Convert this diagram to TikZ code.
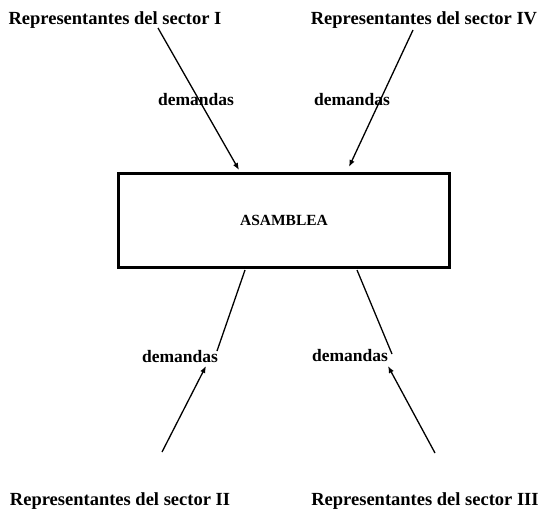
\documentclass[tikz,border=0pt]{standalone}
\usepackage{fontspec}
\setmainfont{Liberation Serif}
\usetikzlibrary{arrows.meta}

\begin{document}
\begin{tikzpicture}[x = 1pt, y = -1pt, line width = 1.3pt,
                        rep/.style = {inner sep = 0pt, font = \bfseries\fontsize{18.5}{20}\selectfont},
                        dem/.style = {inner sep = 0pt, font = \bfseries\fontsize{17.5}{20}\selectfont},
                        asamblea/.style = {draw, line width = 3pt, inner sep = 0pt, minimum width = 331pt,
                                           minimum height = 94pt, font = \bfseries\fontsize{15.5}{18}\selectfont},
                        flecha/.style = {-{Latex[length = 7pt, width = 5.5pt]}}]
      \useasboundingbox (0, 0) rectangle (541, 511);
      \node [rep] (s1) at (115, 20){Representantes del sector I};
      \node [rep] (s4) at (424, 20){Representantes del sector IV};
      \node [rep] (s2) at (120, 501){Representantes del sector II};
      \node [rep] (s3) at (425, 501){Representantes del sector III};
      \node [asamblea] (asm) at (284, 220.5){ASAMBLEA};
      \node [dem] (d1) at (196, 100){demandas};
      \node [dem] (d4) at (352, 100){demandas};
      \node [dem] (d2) at (180, 357){demandas};
      \node [dem] (d3) at (350, 356){demandas};
      \coordinate (a1) at (158, 28);
      \coordinate (b1) at (239, 170);
      \coordinate (a4) at (413, 30);
      \coordinate (b4) at (349, 167);
      \coordinate (b2) at (245, 270);
      \coordinate (c2) at (217, 351);
      \coordinate (a2) at (162, 452);
      \coordinate (e2) at (206, 366);
      \coordinate (b3) at (357, 270);
      \coordinate (c3) at (392, 354);
      \coordinate (a3) at (435, 453);
      \coordinate (e3) at (388, 366);
      \draw [flecha] (a1) -- (b1);
      \draw [flecha] (a4) -- (b4);
      \draw (b2) -- (c2);
      \draw [flecha] (a2) -- (e2);
      \draw (b3) -- (c3);
      \draw [flecha] (a3) -- (e3);
    \end{tikzpicture}
\end{document}
